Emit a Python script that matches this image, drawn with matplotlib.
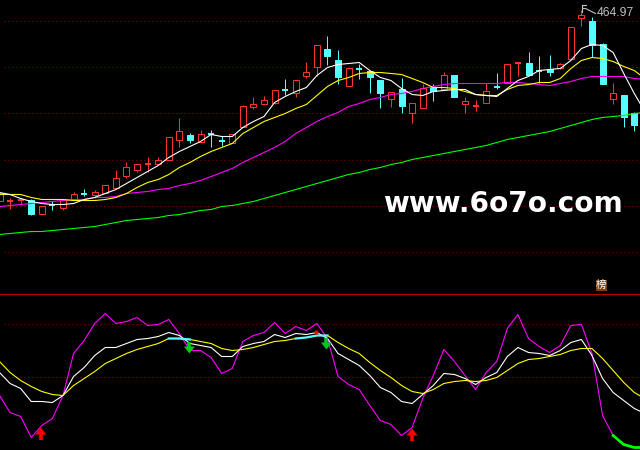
import matplotlib
matplotlib.use("Agg")
import matplotlib.pyplot as plt
from matplotlib.patches import Rectangle

# one row per bar: open, close, high, low (chart rows, smaller = higher price)
candles = [
    (200, 192, 192, 200), (201, 200, 197, 208), (199, 199, 199, 203), (199, 213, 198, 214),
    (213, 205, 205, 213), (204, 204, 200, 209), (207, 198, 198, 209), (199, 193, 191, 199),
    (193, 193, 188, 195), (194, 191, 189, 197), (192, 184, 184, 192), (187, 177, 169, 187),
    (175, 166, 161, 177), (169, 163, 163, 171), (164, 163, 156, 171), (163, 159, 156, 163),
    (159, 136, 136, 159), (139, 130, 117, 146), (134, 139, 132, 142), (141, 133, 129, 141),
    (133, 133, 129, 146), (140, 140, 135, 145), (142, 133, 133, 142), (126, 105, 104, 126),
    (106, 103, 96, 108), (103, 99, 95, 103), (102, 89, 89, 103), (89, 89, 78, 94),
    (92, 79, 79, 96), (75, 71, 61, 77), (66, 44, 44, 75), (48, 55, 35, 64),
    (59, 76, 49, 83), (85, 67, 67, 85), (68, 68, 63, 78), (70, 76, 70, 92),
    (79, 92, 79, 107), (98, 91, 91, 106), (88, 105, 77, 112), (112, 102, 102, 122),
    (107, 87, 83, 107), (86, 90, 83, 100), (88, 74, 71, 88), (74, 96, 74, 96),
    (103, 100, 96, 112), (106, 105, 99, 110), (102, 90, 82, 102), (86, 86, 72, 88),
    (82, 63, 63, 82), (63, 62, 62, 75), (62, 74, 51, 74), (70, 70, 55, 82),
    (68, 71, 54, 75), (67, 63, 62, 68), (58, 26, 26, 58), (17, 14, 9, 25),
    (20, 44, 16, 56), (43, 83, 42, 83), (98, 92, 82, 103), (94, 116, 94, 126),
    (112, 124, 111, 130),
]
doji_up = [1, 2, 14, 49]

ma_short = [192, 194, 198, 201, 203, 204, 204, 203, 199, 197, 193, 189, 183, 177, 171, 165,
            157, 151, 146, 141, 134, 136, 136, 127, 121, 116, 102, 96, 91, 87, 75, 67,
            64, 63, 62, 70, 77, 80, 88, 94, 95, 91, 90, 89, 89, 94, 95, 96, 88, 80,
            76, 70, 69, 68, 60, 48, 44, 45, 52, 73, 93, 111]
ma_mid = [194, 194, 194, 197, 199, 199, 199, 200, 200, 200, 199, 197, 193, 187, 182, 179,
          174, 167, 162, 156, 151, 147, 143, 133, 127, 121, 117, 113, 108, 104, 95, 86,
          80, 77, 73, 72, 72, 73, 74, 78, 82, 87, 87, 88, 91, 94, 95, 95, 89, 85,
          84, 82, 82, 78, 68, 60, 57, 58, 61, 66, 70, 78]
ma_long = [206, 205, 204, 203, 202, 201, 200, 199, 199, 197, 197, 196, 193, 192, 191, 189,
           188, 185, 183, 180, 176, 172, 168, 162, 157, 152, 147, 141, 133, 127, 121, 116,
           112, 106, 103, 99, 97, 94, 93, 91, 88, 86, 84, 83, 83, 83, 83, 83, 82, 82,
           83, 84, 85, 83, 81, 78, 76, 76, 76, 76, 78, 79]
ma_trend = [234, 233, 232, 231, 231, 230, 229, 228, 227, 226, 224, 222, 220, 219, 218, 217,
            215, 214, 212, 210, 209, 206, 205, 203, 201, 198, 195, 192, 189, 186, 183, 180,
            177, 174, 172, 169, 167, 164, 162, 159, 157, 155, 153, 151, 149, 147, 145, 142,
            139, 137, 135, 133, 131, 128, 125, 122, 119, 117, 116, 115, 113, 112]

kd_fast = [395, 412, 416, 437, 425, 418, 395, 353, 340, 323, 313, 323, 321, 317, 325, 324,
           319, 333, 350, 350, 357, 373, 368, 341, 335, 332, 322, 333, 326, 330, 323, 338,
           376, 384, 389, 405, 420, 424, 435, 427, 398, 375, 349, 361, 375, 389, 372, 361,
           328, 314, 338, 346, 352, 345, 325, 324, 353, 415, 435, 444, 447, 447]
kd_mid = [372, 383, 388, 401, 401, 402, 395, 376, 367, 355, 347, 347, 343, 339, 338, 336,
          332, 335, 343, 345, 347, 356, 356, 346, 343, 341, 334, 337, 333, 334, 332, 338,
          353, 359, 365, 375, 387, 392, 401, 403, 394, 385, 373, 374, 378, 384, 377, 372,
          356, 347, 352, 353, 355, 350, 342, 339, 355, 378, 392, 400, 408, 413]
kd_slow = [361, 372, 380, 386, 391, 394, 395, 385, 378, 371, 363, 358, 353, 349, 346, 343,
           338, 338, 339, 341, 343, 348, 350, 349, 347, 344, 341, 340, 338, 337, 335, 335,
           342, 348, 353, 362, 370, 377, 385, 391, 393, 389, 383, 381, 380, 381, 380, 377,
           370, 363, 359, 358, 356, 354, 350, 348, 348, 358, 370, 382, 392, 398]

grid_rows = [20, 66, 112, 159, 205, 251, 323, 376]
buy_arrows = [(3.9, 427), (39, 428)]
sell_arrows = [(17.95, 353), (30.9, 349)]

BAR_STEP = 10.58
BAR_ZERO = -1.0
RED = "#ff3232"
CYAN = "#54ffff"
DOTTED = "#a80000"
PX = 0.8  # about one screen pixel


def bar_at(px):
    return (px - BAR_ZERO) / BAR_STEP


fig = plt.figure(figsize=(6.4, 4.5), dpi=100, facecolor="black")
ax = fig.add_axes([0, 0, 1, 1], facecolor="black")
ax.set_xlim(bar_at(-0.5), bar_at(639.5))
ax.set_ylim(449.5, -0.5)
ax.axis("off")

for row in grid_rows:
    ax.plot([bar_at(3), bar_at(640)], [row, row], color=DOTTED, lw=0.72, ls=(0, (1, 3)), zorder=1)
ax.axhline(293, color="#c00000", lw=0.72, zorder=1)

# price panel
bar_w = 6 / BAR_STEP
for i, (o, c, hi, lo) in enumerate(candles):
    falling = c > o or (o == c and i not in doji_up)
    col = CYAN if falling else RED
    ax.vlines(i, hi, lo, color=col, lw=0.72, zorder=3)
    top, bottom = min(o, c), max(o, c)
    if bottom - top <= 1:
        ax.hlines(top, i - bar_w / 2, i + bar_w / 2, color=col, lw=1.4, zorder=4)
    elif falling:
        ax.add_patch(Rectangle((i - bar_w / 2, top), bar_w, bottom - top, fc=CYAN, ec=CYAN,
                               lw=0.72, zorder=4))
    else:
        ax.add_patch(Rectangle((i - bar_w / 2, top), bar_w, bottom - top, fc="black", ec=RED,
                               lw=0.72, zorder=4))

bars = list(range(len(ma_short)))
ax.plot(bars, ma_trend, color="#00ff00", lw=PX, zorder=5)
ax.plot(bars, ma_long, color="#ff00ff", lw=PX, zorder=5)
ax.plot(bars, ma_mid, color="#ffff00", lw=PX, zorder=5)
ax.plot(bars, ma_short, color="#ffffff", lw=PX, zorder=5)

# indicator panel
ax.plot(bars[:59], kd_fast[:59], color="#ff00ff", lw=PX, zorder=5)
ax.plot(bars[58:], kd_fast[58:], color="#00ff00", lw=2, zorder=6)
ax.plot(bars, kd_mid, color="#ffffff", lw=PX, zorder=5)
ax.plot(bars, kd_slow, color="#ffff00", lw=PX, zorder=5)
ax.plot(bars[16:19], kd_slow[16:19], color=CYAN, lw=1.6, zorder=6)
ax.plot(bars[28:32], kd_slow[28:32], color=CYAN, lw=1.6, zorder=6)
ax.scatter([29.95], [331], s=9, color="#ff0000", marker="o", linewidths=0, zorder=6)

head_w = 5.5 / BAR_STEP
stem_w = 2.6
for i, tip in buy_arrows:
    ax.vlines(i, tip + 5, tip + 12, color="#ff0000", lw=stem_w, zorder=7)
    ax.fill([i - head_w, i, i + head_w], [tip + 7, tip, tip + 7], color="#ff0000", lw=0, zorder=7)
for i, tip in sell_arrows:
    ax.vlines(i, tip - 12, tip - 5, color="#00c81e", lw=stem_w, zorder=7)
    ax.fill([i - head_w, i, i + head_w], [tip - 7, tip, tip - 7], color="#00c81e", lw=0, zorder=7)

# peak label with its flag
ax.text(bar_at(596), 12, "464.97", color="#c0c0c0", fontsize=8.7, va="center", ha="left",
        family="Liberation Sans", zorder=8)
flag_x = [582, 582, 586, 582, 582, 585, 595]
flag_y = [12, 5, 5, 5, 8, 8, 13]
ax.plot([bar_at(p) for p in flag_x], flag_y, color="#c0c0c0", lw=PX, zorder=8)

ax.text(bar_at(502.5), 204, "www.6o7o.com", color="white", fontsize=20.2, fontweight="bold",
        va="center", ha="center", family="DejaVu Sans", zorder=9)

ax.add_patch(Rectangle((bar_at(595), 279), 11 / BAR_STEP, 11.5, fc="#7a4010", ec="none", zorder=9))
ax.text(bar_at(600.5), 284.5, "榜", color="white", fontsize=7.6, va="center", ha="center",
        family=["Noto Sans CJK SC", "DejaVu Sans"], zorder=10)

fig.savefig("out.png", dpi=100, facecolor="black")
